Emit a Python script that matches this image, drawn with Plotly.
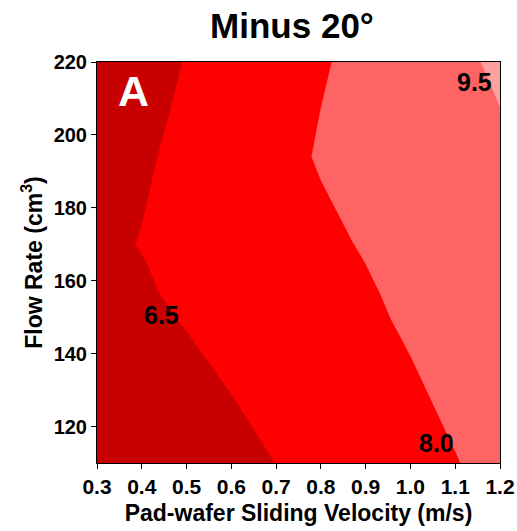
import plotly.graph_objects as go

# Grid of sliding velocity (m/s) and flow rate (cm^3)
velocity = [0.3, 0.4, 0.5, 0.6, 0.7, 0.8, 0.9, 1.0, 1.1, 1.2]
flow_rate = [110, 149, 157, 165, 170, 194, 207, 220]

# Response values (rows follow flow_rate, columns follow velocity)
z_110 = [5.062, 5.424, 5.786, 6.149, 6.511, 6.873, 7.236, 7.598, 7.960, 8.322]
z_149 = [5.927, 6.242, 6.557, 6.872, 7.187, 7.502, 7.817, 8.132, 8.447, 8.762]
z_157 = [6.083, 6.387, 6.692, 6.996, 7.300, 7.604, 7.909, 8.213, 8.517, 8.822]
z_165 = [6.158, 6.466, 6.774, 7.082, 7.390, 7.698, 8.006, 8.314, 8.622, 8.930]
z_170 = [6.236, 6.543, 6.850, 7.158, 7.465, 7.773, 8.080, 8.387, 8.695, 9.002]
z_194 = [5.899, 6.344, 6.789, 7.234, 7.680, 8.084, 8.384, 8.684, 8.984, 9.284]
z_207 = [5.766, 6.213, 6.661, 7.109, 7.557, 8.004, 8.375, 8.747, 9.119, 9.490]
z_220 = [5.640, 6.090, 6.541, 6.991, 7.442, 7.892, 8.343, 8.793, 9.244, 9.694]
z_rows = [z_110, z_149, z_157, z_165, z_170, z_194, z_207, z_220]

levels_start, levels_end, levels_step = 6.5, 9.5, 1.5

# Contour labels (text, velocity, flow rate)
label_text = ["6.5", "8.0", "9.5"]
label_x = [0.443, 1.059, 1.144]
label_y = [150.7, 115.6, 214.5]

band_colors = ["#c80000", "#ff0000", "#ff6464", "#ffa0a0"]

FONT = "Arial, Liberation Sans, Helvetica, sans-serif"

fig = go.Figure()
fig.add_trace(go.Contour(
    x=velocity, y=flow_rate, z=z_rows,
    contours=dict(start=levels_start, end=levels_end, size=levels_step,
                  coloring="fill", showlines=False),
    colorscale=[[0, band_colors[0]], [1/3, band_colors[1]],
                [2/3, band_colors[2]], [1, band_colors[3]]],
    line=dict(width=0, smoothing=0),
    showscale=False,
    hoverinfo="skip",
))

annotations = []
for t, x, y in zip(label_text, label_x, label_y):
    annotations.append(dict(x=x, y=y, xref="x", yref="y", text=t, showarrow=False,
                            xanchor="center", yanchor="middle",
                            font=dict(family=FONT, size=25, color="black", weight="bold")))
annotations.append(dict(x=(133 - 97) / (500 - 97), y=1 - (91 - 62) / (463 - 62),
                        xref="paper", yref="paper", text="A", showarrow=False,
                        xanchor="center", yanchor="middle",
                        font=dict(family=FONT, size=43, color="white", weight="bold")))

fig.update_layout(
    width=517, height=531, autosize=False,
    margin=dict(l=97, r=17, t=62, b=68, autoexpand=False),
    paper_bgcolor="white", plot_bgcolor="white",
    title=dict(text="Minus 20°", x=292 / 517, xref="container", xanchor="center",
               y=1 - 26 / 531, yref="container", yanchor="middle",
               font=dict(family=FONT, size=35, color="black", weight="bold")),
    annotations=annotations,
    showlegend=False,
)
fig.update_xaxes(
    range=[0.3, 1.2], tickmode="linear", tick0=0.3, dtick=0.1, tickformat=".1f",
    ticks="outside", ticklen=5, tickwidth=1, tickcolor="black",
    showline=True, linecolor="black", linewidth=1, mirror=True,
    showgrid=False, zeroline=False, automargin=False,
    tickfont=dict(family=FONT, size=21, color="black", weight="bold"),
    title=dict(text="Pad-wafer Sliding Velocity (m/s)", standoff=7,
               font=dict(family=FONT, size=23, color="black", weight="bold")),
)
fig.update_yaxes(
    range=[110, 220], tickmode="linear", tick0=120, dtick=20,
    ticks="outside", ticklen=5, tickwidth=1, tickcolor="black",
    showline=True, linecolor="black", linewidth=1, mirror=True,
    showgrid=False, zeroline=False, automargin=False,
    tickfont=dict(family=FONT, size=20, color="black", weight="bold"),
    title=dict(text="Flow Rate (cm<sup>3</sup>)", standoff=4,
               font=dict(family=FONT, size=23, color="black", weight="bold")),
)

fig.write_html("out.html")
